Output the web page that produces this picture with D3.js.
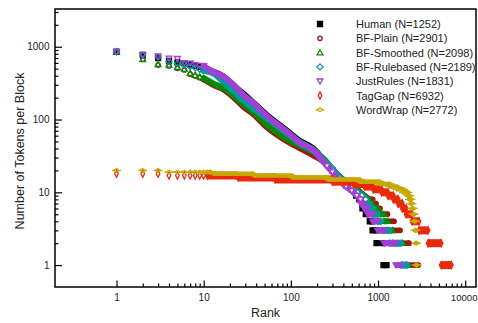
<!DOCTYPE html>
<html>
<head>
<meta charset="utf-8">
<script src="https://cdn.jsdelivr.net/npm/d3@7"></script>
<style>
  body { margin: 0; background: #fff; }
  text { font-family: "Liberation Sans", Arial, sans-serif; fill: #222; }
</style>
</head>
<body>
<svg id="chart" width="478" height="323"></svg>
<script>
// ---- data ----
const seriesNames = ["Human (N=1252)", "BF-Plain (N=2901)", "BF-Smoothed (N=2098)",
  "BF-Rulebased (N=2189)", "JustRules (N=1831)", "TagGap (N=6932)", "WordWrap (N=2772)"];
const seriesColors = ["#000000", "#9c1a0c", "#078b07", "#00999a", "#a23fd6", "#ea2a0c", "#c6a800"];
const seriesSymbols = ["square", "circle", "triUp", "diamond", "triDown", "tallDiamond", "flatDiamond"];

const headRanks = [1, 2, 3, 4, 5, 6, 7, 8, 9, 10];
const xTickValues = [1, 10, 100, 1000, 10000];
const yTickValues = [1, 10, 100, 1000];

// tokens per block at ranks 1..10
const humanHead = [853, 770, 700, 640, 610, 590, 570, 545, 530, 510];
const plainHead = [853, 672, 560, 545, 505, 480, 420, 395, 375, 355];
const smoothHead = [853, 672, 574, 561, 522, 495, 432, 408, 388, 370];
const ruleHead = [853, 770, 720, 620, 590, 570, 535, 515, 490, 475];
const justHead = [853, 770, 745, 693, 685, 603, 593, 560, 550, 545];
const tagHead = [18, 18, 18, 17, 17, 17, 17, 17, 17, 17];
const wrapHead = [20, 20, 20, 19, 19, 19, 19, 19, 19, 19];

// dense middle part: [rank, tokens]
const humanCurve = [[10,510],[13,460],[17,395],[22,300],[28,235],[37,175],[53,118],[90,72],[127,52],[180,41],[260,25],[300,20],[360,15.5],[430,12.5],[500,11],[560,9],[610,8],[663,7]];
const plainCurve = [[10,355],[13,295],[17,255],[22,200],[28,152],[37,118],[53,78],[90,50],[127,40],[180,32],[230,27],[300,20],[370,16],[440,14],[520,12],[600,10.5],[700,9],[800,8]];
const smoothCurve = [[10,370],[13,310],[17,270],[22,215],[28,165],[37,128],[53,85],[90,54],[127,44],[180,36],[230,30],[300,21],[370,16],[440,13.5],[520,11.5],[600,10],[680,9],[770,8]];
const ruleCurve = [[10,475],[13,435],[17,330],[22,250],[28,190],[37,145],[53,106],[90,66],[127,48],[180,38],[260,24],[300,20.5],[360,16],[430,13],[500,11.5],[580,10],[650,9],[720,8]];
const justCurve = [[10,545],[13,450],[17,388],[22,300],[28,222],[37,169],[53,112],[90,68],[127,48],[180,38],[260,23],[300,19],[360,14.5],[430,12],[500,10.5],[570,9],[630,8]];

// plateaus of equal token count: [tokens, firstRank, lastRank]
const humanRuns = [[6,663,724],[5,724,805],[4,805,865],[3,865,961],[2,961,1156],[1,1156,1252]];
const plainRuns = [[8,800,870],[7,870,950],[6,950,1055],[5,1055,1285],[4,1285,1528],[3,1528,1790],[2,1790,2270],[1,2270,2901]];
const smoothRuns = [[7,770,870],[6,870,1000],[5,1000,1170],[4,1170,1285],[3,1285,1466],[2,1466,1910],[1,1910,2098]];
const ruleRuns = [[7,720,790],[6,790,870],[5,870,987],[4,987,1083],[3,1083,1340],[2,1340,1837],[1,1837,2189]];
const justRuns = [[7,630,690],[6,690,760],[5,760,865],[4,865,987],[3,987,1172],[2,1172,1600],[1,1600,1831]];
const tagRuns = [[17,11,24],[16,25,66],[15,66,300],[14,300,520],[13,520,700],[12,700,880],[11,880,1100],[10,1100,1300],[9,1300,1500],[8,1500,1700],[7,1700,1900],[6,1900,2100],[5,2100,2450],[4,2450,2950],[3,2950,3750],[2,3750,5300],[1,5300,6932]];
const wrapRuns = [[19,11,12],[18,13,37],[17,38,103],[16,104,270],[15,270,620],[14,620,1050],[13,1050,1370],[12,1370,1650],[11,1650,1950],[10,1950,2200],[9,2200,2300],[8,2300,2380],[7,2380,2450],[6,2450,2530],[5,2530,2600],[4,2600,2660],[3,2660,2720],[2,2720,2760],[1,2760,2772]];

const heads = [humanHead, plainHead, smoothHead, ruleHead, justHead, tagHead, wrapHead];
const curves = [humanCurve, plainCurve, smoothCurve, ruleCurve, justCurve, [], []];
const runs = [humanRuns, plainRuns, smoothRuns, ruleRuns, justRuns, tagRuns, wrapRuns];

// ---- drawing ----
const symbolPaths = {
  square: "M-2.5,-2.5h5v5h-5z",
  circle: "M2.2,0A2.2,2.2 0 1,1 -2.2,0A2.2,2.2 0 1,1 2.2,0Z",
  triUp: "M0,-2.9L2.9,2.2L-2.9,2.2Z",
  diamond: "M0,-3L3,0L0,3L-3,0Z",
  triDown: "M0,2.9L2.9,-2.2L-2.9,-2.2Z",
  tallDiamond: "M0,-3.6L1.8,0L0,3.6L-1.8,0Z",
  flatDiamond: "M-2.8,0L0,-1.8L2.8,0L0,1.8Z M-4.6,0H-2.8 M2.8,0H4.6"
};
const bandWidth = { square: 5, circle: 5.6, triUp: 6, diamond: 7, triDown: 6, tallDiamond: 8, flatDiamond: 4.6 };

const svg = d3.select("#chart");
const x = d3.scaleLog().domain([0.197, 13300]).range([55, 476]);
const y = d3.scaleLog().domain([0.5, 3300]).range([287, 9]);

const xMinor = x.ticks().filter(d => d >= 1 && d <= 10000 && !xTickValues.includes(d));
const yMinor = y.ticks().filter(d => d >= 1 && !yTickValues.includes(d));

function styleAxis(g) {
  g.select(".domain").remove();
  g.selectAll("line").attr("stroke", "#000").attr("stroke-width", 1.2);
  g.selectAll("text").attr("font-family", "Liberation Sans, Arial, sans-serif").attr("font-size", 10).attr("fill", "#222");
}

svg.append("g").attr("transform", "translate(0,287)")
  .call(d3.axisBottom(x).tickValues(xMinor).tickSize(-3.5).tickFormat(""))
  .call(styleAxis);
svg.append("g").attr("transform", "translate(0,287)")
  .call(d3.axisBottom(x).tickValues(xTickValues).tickSize(-6.5).tickPadding(7).tickFormat(d3.format("d")))
  .call(styleAxis)
  .call(g => g.selectAll("text").filter(d => d === 10000).attr("font-size", 9.6).attr("dx", -1.5));
svg.append("g").attr("transform", "translate(55,0)")
  .call(d3.axisLeft(y).tickValues(yMinor).tickSize(-3.5).tickFormat(""))
  .call(styleAxis);
svg.append("g").attr("transform", "translate(55,0)")
  .call(d3.axisLeft(y).tickValues(yTickValues).tickSize(-7).tickPadding(5.5).tickFormat(d3.format("d")))
  .call(styleAxis);

const line = d3.line().x(d => x(d[0])).y(d => y(d[1])).curve(d3.curveMonotoneX);

seriesNames.forEach((name, i) => {
  const color = seriesColors[i];
  const sym = symbolPaths[seriesSymbols[i]];
  const bw = bandWidth[seriesSymbols[i]];
  const g = svg.append("g");

  if (curves[i].length) {
    g.append("path").datum(curves[i])
      .attr("d", line).attr("fill", "none").attr("stroke", color)
      .attr("stroke-width", bw).attr("stroke-linejoin", "round").attr("stroke-linecap", "round");
  }

  g.selectAll(".run").data(runs[i]).enter().append("line")
    .attr("x1", d => x(d[1])).attr("x2", d => x(d[2]))
    .attr("y1", d => y(d[0])).attr("y2", d => y(d[0]))
    .attr("stroke", color).attr("stroke-width", bw);

  const ends = runs[i].flatMap(d => [[d[1], d[0]], [d[2], d[0]]]);
  g.selectAll(".end").data(ends).enter().append("path")
    .attr("d", sym).attr("transform", d => `translate(${x(d[0])},${y(d[1])})`)
    .attr("fill", color).attr("stroke", color).attr("stroke-width", 1.3);

  g.selectAll(".dot").data(curves[i].filter(d => d[1] < 25)).enter().append("path")
    .attr("d", sym).attr("transform", d => `translate(${x(d[0])},${y(d[1])})`)
    .attr("fill", seriesSymbols[i] === "square" ? color : "#fff")
    .attr("stroke", color).attr("stroke-width", 1.3);

  g.selectAll(".head").data(heads[i]).enter().append("path")
    .attr("d", sym).attr("transform", (d, k) => `translate(${x(headRanks[k])},${y(d)})`)
    .attr("fill", seriesSymbols[i] === "square" ? color : "none")
    .attr("stroke", color).attr("stroke-width", 1.3);
});

// frame
svg.append("rect").attr("x", 55).attr("y", 9).attr("width", 421).attr("height", 278)
  .attr("fill", "none").attr("stroke", "#000").attr("stroke-width", 1.5);

// axis titles
svg.append("text").attr("x", 265.5).attr("y", 317).attr("text-anchor", "middle")
  .attr("font-size", 12.5).text("Rank");
svg.append("text").attr("transform", "translate(23.5,151) rotate(-90)").attr("text-anchor", "middle")
  .attr("font-size", 12.5).text("Number of Tokens per Block");

// legend
const legend = svg.append("g");
seriesNames.forEach((name, i) => {
  const ly = 24 + i * 14.3;
  legend.append("path").attr("d", symbolPaths[seriesSymbols[i]])
    .attr("transform", `translate(320,${ly})`)
    .attr("fill", seriesSymbols[i] === "square" ? seriesColors[i] : "none")
    .attr("stroke", seriesColors[i]).attr("stroke-width", 1.3);
  legend.append("text").attr("x", 356).attr("y", ly + 4).attr("font-size", 11).text(name);
});
</script>
</body>
</html>
